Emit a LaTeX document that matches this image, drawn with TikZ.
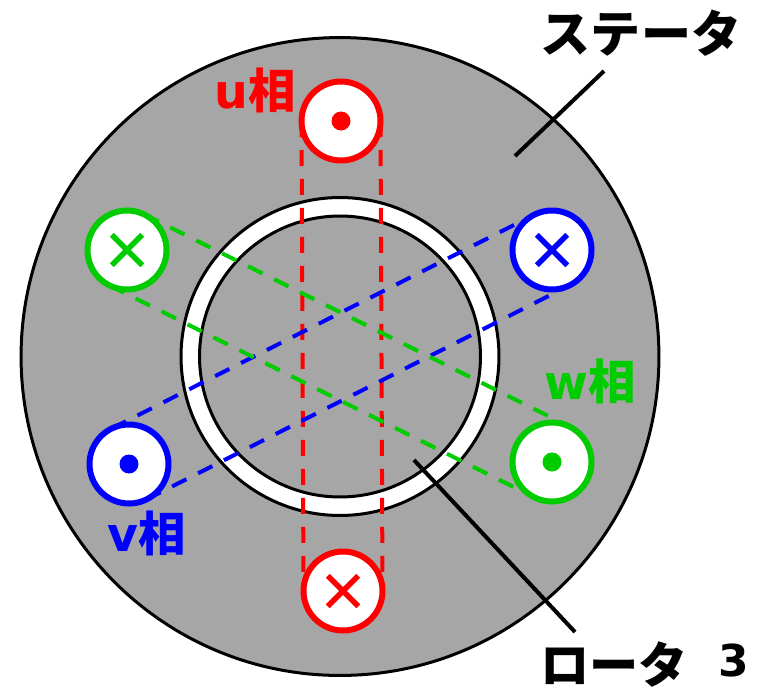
\documentclass[tikz,border=0pt]{standalone}
\usepackage{fontspec}
\usetikzlibrary{shapes.misc}
\setmainfont{DejaVu Sans}
\newfontfamily\cjk{Noto Sans CJK JP}
\definecolor{statorgray}{RGB}{166,166,166}
\definecolor{ured}{RGB}{255,0,0}
\definecolor{vblue}{RGB}{0,0,255}
\definecolor{wgreen}{RGB}{0,204,0}

\begin{document}
\begin{tikzpicture}[
    x=0.02cm, y=-0.02cm,
    disk/.style={draw, circle, line width=0.06cm, inner sep=0pt},
    coil/.style={draw=#1, circle, fill=white, line width=0.12cm, minimum size=1.58cm, inner sep=0pt, outer sep=0pt},
    dotmark/.style={circle, fill=#1, minimum size=0.38cm, inner sep=0pt},
    crossmark/.style={cross out, draw=#1, line width=0.11cm, minimum size=0.5cm, inner sep=0pt},
    phase/.style={line width=0.08cm, dash pattern=on 0.32cm off 0.26cm},
    leader/.style={line width=0.08cm},
    lbl/.style={font=\fontsize{#1}{#1}\selectfont\bfseries, inner sep=0pt}
]
    \useasboundingbox (0,0) rectangle (757,687);

    % Stator and rotor
    \node[disk, fill=statorgray, minimum size=12.76cm] (stator) at (340,356.5) {};
    \node[disk, fill=white, minimum size=6.36cm] (ring) at (340,356.5) {};
    \node[disk, fill=statorgray, minimum size=5.62cm] (rotor) at (340,356.5) {};

    % Coils
    \node[coil=ured] (uout) at (341,121) {};
    \node[coil=ured] (uin) at (343,591) {};
    \node[coil=vblue] (vout) at (129,464) {};
    \node[coil=vblue] (vin) at (552,250) {};
    \node[coil=wgreen] (wout) at (552,462) {};
    \node[coil=wgreen] (win) at (127,250) {};
    \node[dotmark=ured] (udot) at (uout) {};
    \node[dotmark=vblue] (vdot) at (vout) {};
    \node[dotmark=wgreen] (wdot) at (wout) {};
    \node[crossmark=ured] (ucross) at (uin) {};
    \node[crossmark=vblue] (vcross) at (vin) {};
    \node[crossmark=wgreen] (wcross) at (win) {};

    % Phase lines
    \draw[phase, ured] (uout.180) -- (uin.180);
    \draw[phase, ured] (uout.0) -- (uin.0);
    \draw[phase, vblue] (vout.116) -- (vin.116);
    \draw[phase, vblue] (vout.296) -- (vin.296);
    \draw[phase, wgreen] (win.64) -- (wout.64);
    \draw[phase, wgreen] (win.244) -- (wout.244);

    % Leaders
    \coordinate (statortip) at (604,71);
    \coordinate (statorend) at (515,156);
    \coordinate (rotortip) at (575,632);
    \coordinate (rotorend) at (414,460);
    \draw[leader] (statortip) -- (statorend);
    \draw[leader] (rotortip) -- (rotorend);

    % Labels
    \node[lbl=28.5, text=black] (statorlbl) at (641,33) {\cjk ステータ};
    \node[lbl=28, text=black, anchor=west] (rotorlbl) at (540,664) {\cjk ロータ};
    \node[lbl=25, text=black] (rotornum) at (734,660) {3};
    \node[lbl=27, text=ured] (ulbl) at (255,90) {u{\cjk 相}};
    \node[lbl=27, text=vblue] (vlbl) at (147,533) {v{\cjk 相}};
    \node[lbl=27, text=wgreen] (wlbl) at (590,381) {w{\cjk 相}};
\end{tikzpicture}
\end{document}
